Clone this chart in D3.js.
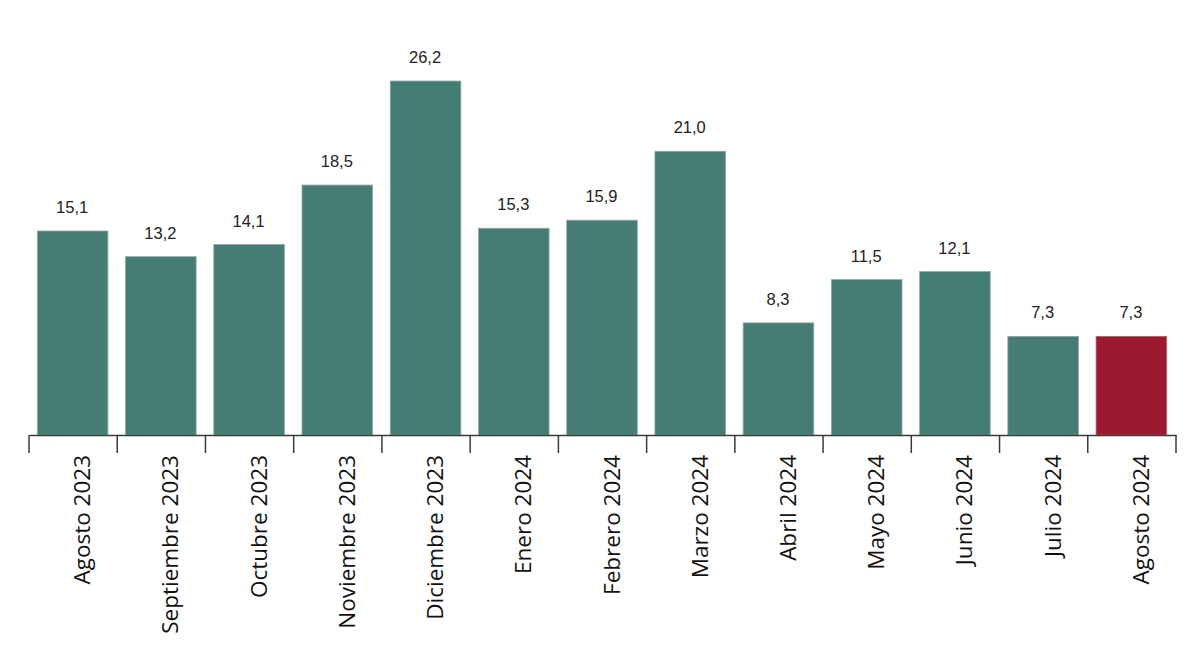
<!DOCTYPE html>
<html>
<head>
<meta charset="utf-8">
<script src="https://cdn.jsdelivr.net/npm/d3@7"></script>
<style>
  html, body { margin: 0; padding: 0; background: #fff; }
  #chart { width: 1200px; height: 655px; }
</style>
</head>
<body>
<div id="chart"></div>
<script>
// ---------- Data ----------
const months = [
  "Agosto 2023", "Septiembre 2023", "Octubre 2023", "Noviembre 2023",
  "Diciembre 2023", "Enero 2024", "Febrero 2024", "Marzo 2024",
  "Abril 2024", "Mayo 2024", "Junio 2024", "Julio 2024", "Agosto 2024"
];
const values = [15.1, 13.2, 14.1, 18.5, 26.2, 15.3, 15.9, 21.0, 8.3, 11.5, 12.1, 7.3, 7.3];
const highlight = ["Agosto 2024"];

const GREEN = "#457d74";
const RED = "#9b1a30";

// ---------- Chart ----------
const w = 1200, h = 655;
const svg = d3.select("#chart").append("svg").attr("width", w).attr("height", h);

const x = d3.scaleBand().domain(months).range([29, 1176]).paddingInner(0.2).paddingOuter(0.1);
const y = d3.scaleLinear().domain([0, 30]).range([435, 435 - 30 * 13.51]);

const fmt = (v) => v.toFixed(1).replace(".", ",");

// Bars
svg.append("g")
  .selectAll("rect")
  .data(values)
  .enter()
  .append("rect")
  .attr("x", (d, i) => x(months[i]) - 0.5)
  .attr("y", (d) => y(d))
  .attr("width", x.bandwidth())
  .attr("height", (d) => y(0) - y(d))
  .attr("fill", (d, i) => (highlight.includes(months[i]) ? RED : GREEN))
  .attr("stroke", (d, i) => (highlight.includes(months[i]) ? "#b06070" : "#8aaaa3"))
  .attr("stroke-width", 0.8);

// Value labels
svg.append("g")
  .selectAll("text")
  .data(values)
  .enter()
  .append("text")
  .attr("x", (d, i) => x(months[i]) + x.bandwidth() / 2 - 1)
  .attr("y", (d) => y(d) - 18)
  .attr("text-anchor", "middle")
  .attr("font-family", "Liberation Sans, Arial, sans-serif")
  .attr("font-size", 16.5)
  .attr("fill", "#222")
  .text(fmt);

// Axis
const axis = svg.append("g")
  .attr("transform", `translate(0, 435)`)
  .call(d3.axisBottom(x).tickSize(0).tickFormat(""));
axis.select(".domain").attr("stroke", "#3a3a3a").attr("stroke-width", 1.5);

// Tick marks between categories
const edges = d3.range(months.length + 1).map((i) => 29 + i * (1147 / months.length));
svg.append("g")
  .selectAll("line")
  .data(edges)
  .enter()
  .append("line")
  .attr("x1", (d) => d).attr("x2", (d) => d)
  .attr("y1", 435).attr("y2", 453)
  .attr("stroke", "#3a3a3a")
  .attr("stroke-width", 1.5);

// Category labels (rotated)
svg.append("g")
  .selectAll("text")
  .data(months)
  .enter()
  .append("text")
  .attr("transform", (d) => `translate(${x(d) + x.bandwidth() / 2 + 17}, 455) rotate(-90)`)
  .attr("text-anchor", "end")
  .attr("font-family", "Open Sans, Noto Sans, sans-serif")
  .attr("font-size", 22.5)
  .attr("fill", "#111")
  .text((d) => d);
</script>
</body>
</html>
